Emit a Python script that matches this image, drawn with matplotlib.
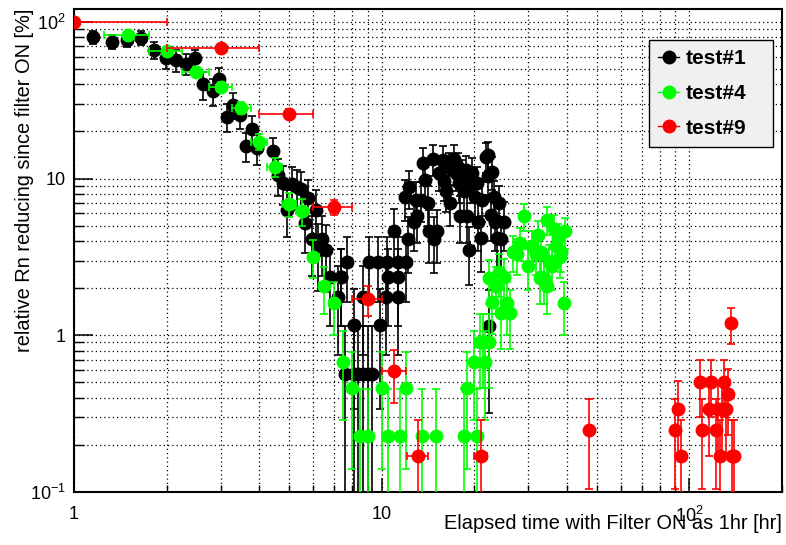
import numpy as np
import matplotlib
matplotlib.use("Agg")
import matplotlib.pyplot as plt
from matplotlib.lines import Line2D
from matplotlib.ticker import FixedLocator, FixedFormatter, NullFormatter

plt.rcParams['font.family'] = ['Liberation Sans', 'DejaVu Sans']
plt.rcParams['mathtext.fontset'] = 'custom'
plt.rcParams['mathtext.rm'] = 'Liberation Sans'
plt.rcParams['mathtext.it'] = 'Liberation Sans'
plt.rcParams['mathtext.default'] = 'regular'

# ---------------- data ----------------
series_names = ["test#1", "test#4", "test#9"]
series_colors = ["#000000", "#00ff00", "#ff0000"]

t1_x = [1.15, 1.33, 1.49, 1.65, 1.82, 1.99, 2.15, 2.32, 2.48, 2.63, 2.82, 2.97,
        3.15, 3.29, 3.47, 3.63, 3.80, 3.94, 4.45, 4.60, 4.79, 5.13, 5.30, 5.48,
        4.94, 5.77, 6.10, 5.65, 5.92, 6.42, 6.23, 6.60, 6.80, 7.35, 7.40, 7.20,
        7.70, 8.10, 8.70, 9.10, 9.70, 10.4, 11.3, 12.0, 10.5, 11.3, 10.3, 11.3,
        9.90, 7.60, 8.10, 8.40, 8.70, 9.00, 9.30, 11.0,
        11.9, 12.3, 12.2, 12.7, 13.0, 12.9, 13.4, 13.6, 13.8, 14.1, 14.3, 14.7,
        14.8, 15.1, 15.3, 15.8, 15.9, 16.2, 16.6, 16.7, 17.2, 17.4, 17.7, 17.8,
        18.0, 18.3, 18.5, 18.8, 18.9, 19.2, 19.5, 19.7, 20.1, 20.4, 20.6, 21.0,
        21.2, 21.8, 22.1, 22.2, 22.6, 22.9, 23.2, 23.4, 23.7, 24.0, 24.5, 24.9,
        22.4]
t1_y = [80, 75, 77, 79, 66, 59, 57, 54, 58.5, 40, 36, 43,
        24.9, 29.5, 25.6, 16.2, 20.8, 15.8, 15.0, 10.6, 9.4, 9.3, 8.8, 8.6,
        6.35, 7.5, 6.35, 5.24, 4.09, 4.09, 3.53, 3.48, 2.34, 2.34, 2.34, 1.75,
        2.92, 1.16, 1.75, 2.92, 2.92, 2.92, 2.92, 2.92, 2.34, 2.34, 1.75, 1.75,
        1.16, 0.57, 0.57, 0.57, 0.57, 0.57, 0.57, 4.6,
        7.6, 8.8, 4.1, 5.25, 5.8, 7.35, 7.35, 12.6, 9.85, 7.0, 4.6, 13.4,
        4.1, 4.6, 10.9, 13.2, 9.6, 8.3, 11.8, 7.0, 13.4, 10.9, 11.9, 9.4,
        5.8, 10.6, 8.3, 11.4, 5.8, 3.48, 9.4, 10.9, 7.6, 9.4, 5.25, 4.15,
        7.35, 13.8, 14.2, 10.4, 5.9, 11.1, 7.6, 5.25, 4.15, 7.0, 4.1, 5.25,
        1.14]
t1_yerr = [8, 8, 8, 8, 8, 9, 9, 8, 8, 8, 7, 8,
           5, 5.5, 5, 3.5, 4.2, 3.5, 3.3, 2.8, 2.6, 2.6, 2.5, 2.5,
           2.1, 2.3, 2.1, 1.9, 1.7, 1.7, 1.6, 1.6, 1.2, 1.2, 1.2, 1.0,
           1.3, 0.82, 1.0, 1.3, 1.3, 1.3, 1.3, 1.3, 1.2, 1.2, 1.0, 1.0,
           0.82, 0.57, 0.57, 0.57, 0.57, 0.57, 0.57, 1.8,
           2.2, 2.4, 1.6, 1.8, 1.9, 2.1, 2.1, 3.0, 2.5, 2.0, 1.7, 3.0,
           1.6, 1.7, 2.6, 3.0, 2.4, 2.2, 2.7, 2.0, 3.0, 2.6, 2.7, 2.4,
           1.9, 2.5, 2.2, 2.6, 1.9, 1.4, 2.4, 2.6, 2.1, 2.4, 1.8, 1.6,
           2.1, 3.0, 3.0, 2.5, 1.9, 2.6, 2.1, 1.8, 1.6, 2.0, 1.6, 1.8,
           0.82]

t4_x = [1.5, 2.0, 2.5, 3.0, 3.5, 4.0, 4.5, 5.0, 5.5, 6.0, 6.5, 7.0,
        7.5, 8.0, 8.5, 9.0, 10.0, 10.5, 11.5, 12.0, 13.5, 15.0, 18.5, 19.0,
        19.9, 20.4, 20.8, 21.4, 21.6, 22.3, 22.3, 22.9, 23.6, 24.0, 24.5, 24.9,
        25.5, 26.1, 26.7, 27.5, 28.1, 29.0, 29.9, 30.8, 31.7, 32.2, 33.0, 32.7,
        33.8, 34.4, 34.4, 34.9, 35.8, 36.4, 36.9, 37.4, 38.2, 38.0, 39.4, 39.1]
t4_y = [82, 65, 48, 38.6, 28.4, 17.2, 11.9, 6.9, 6.2, 3.18, 2.05, 1.6,
        0.68, 0.46, 0.227, 0.227, 0.46, 0.227, 0.227, 0.46, 0.227, 0.227, 0.227, 0.46,
        0.68, 0.227, 0.91, 0.91, 0.68, 0.91, 2.31, 1.62, 2.05, 2.52, 1.38, 2.34,
        1.6, 1.38, 3.42, 3.28, 3.9, 5.74, 2.75, 3.69, 3.28, 4.34, 3.42, 2.31,
        2.31, 2.05, 5.48, 2.96, 2.75, 4.8, 3.69, 4.15, 3.42, 3.18, 4.6, 1.6]
t4_yerr = [4.3, 3.8, 3.3, 3.0, 2.5, 2.0, 1.6, 1.25, 1.2, 0.85, 0.68, 0.6,
           0.39, 0.32, 0.227, 0.227, 0.32, 0.227, 0.227, 0.32, 0.227, 0.227, 0.227, 0.32,
           0.39, 0.227, 0.45, 0.45, 0.39, 0.45, 0.72, 0.6, 0.68, 0.76, 0.56, 0.73,
           0.6, 0.56, 0.88, 0.86, 0.94, 1.14, 0.79, 0.92, 0.86, 0.99, 0.88, 0.72,
           0.72, 0.68, 1.12, 0.82, 0.79, 1.04, 0.92, 0.97, 0.88, 0.85, 1.02, 0.6]
t4_xerr = [0.25] * len(t4_x)

t9_x = [1.0, 3.0, 5.0, 7.0, 9.0, 11.0, 13.1, 21.0, 47.2,
        90, 91.6, 94, 108, 110, 116, 118, 122, 124, 126, 128, 130, 132, 134,
        137, 138, 140]
t9_y = [100, 68, 26, 6.6, 1.70, 0.59, 0.17, 0.17, 0.25,
        0.25, 0.34, 0.17, 0.50, 0.25, 0.34, 0.50, 0.25, 0.34, 0.17, 0.34, 0.50, 0.34, 0.42,
        1.19, 0.17, 0.17]
t9_yerr = [5, 4, 2.0, 0.7, 0.37, 0.22, 0.12, 0.12, 0.145,
           0.145, 0.17, 0.12, 0.2, 0.145, 0.17, 0.2, 0.145, 0.17, 0.12, 0.17, 0.2, 0.17, 0.19,
           0.31, 0.12, 0.12]
t9_xerr = [1.0] * len(t9_x)

x_ticks = [1, 10, 100]
x_tick_labels = ["1", "10", r"$10^{2}$"]
y_ticks = [0.1, 1, 10, 100]
y_tick_labels = [r"$10^{-1}$", "1", "10", r"$10^{2}$"]

x_title = "Elapsed time with Filter ON as 1hr [hr]"
y_title = "relative Rn reducing since filter ON [%]"

# ---------------- figure ----------------
W, H = 786, 545
fig = plt.figure(figsize=(W / 100, H / 100), dpi=100)
L, R, T, B = 74, 782, 9, 492
ax = fig.add_axes([L / W, 1 - B / H, (R - L) / W, (B - T) / H])
ax.set_xscale('log', nonpositive='clip')
ax.set_yscale('log', nonpositive='clip')
ax.set_xlim(1, 200)
ax.set_ylim(0.1, 121)

def draw(x, y, yerr, xerr, color, z):
    x = np.asarray(x, float)
    y = np.asarray(y, float)
    yerr = np.asarray(yerr, float)
    ylo = np.minimum(yerr, y * 0.999)
    xe = None
    if xerr is not None:
        xerr = np.asarray(xerr, float)
        xlo = np.minimum(xerr, x * 0.999)
        xe = [xlo, xerr]
    ax.errorbar(x, y, yerr=[ylo, yerr], xerr=xe, fmt='o', color=color,
                ms=9, mec=color, mfc=color, ecolor=color, elinewidth=1.2,
                capsize=2.6, capthick=1.2, zorder=z)

draw(t1_x, t1_y, t1_yerr, None, series_colors[0], 3)
draw(t4_x, t4_y, t4_yerr, t4_xerr, series_colors[1], 4)
draw(t9_x, t9_y, t9_yerr, t9_xerr, series_colors[2], 5)

# grid
ax.grid(True, which='both', color='black', linestyle=(0, (1.0, 2.4)), linewidth=0.9)
ax.set_axisbelow(True)

# ticks
ax.xaxis.set_major_locator(FixedLocator(x_ticks))
ax.xaxis.set_major_formatter(FixedFormatter(x_tick_labels))
ax.yaxis.set_major_locator(FixedLocator(y_ticks))
ax.yaxis.set_major_formatter(FixedFormatter(y_tick_labels))
ax.xaxis.set_minor_formatter(NullFormatter())
ax.yaxis.set_minor_formatter(NullFormatter())
ax.tick_params(axis='x', which='major', direction='in', length=10.4, width=1.1,
               labelsize=13, pad=10)
ax.tick_params(axis='x', which='minor', direction='in', length=5.2, width=1.0)
ax.tick_params(axis='y', which='major', direction='in', length=13.7, width=1.1,
               labelsize=13, pad=6)
ax.tick_params(axis='y', which='minor', direction='in', length=7.0, width=1.0)
for s in ax.spines.values():
    s.set_linewidth(1.5)
    s.set_color('black')

# titles
ax.set_xlabel(x_title, fontsize=14.4, loc='right')
ax.xaxis.set_label_coords(1.0, -0.046)
ax.set_ylabel(y_title, fontsize=14.4, loc='top')
ax.yaxis.set_label_coords(-0.056, 1.0)

# legend
handles = [Line2D([], [], color=c, marker='o', ms=9, lw=1.0) for c in series_colors]
x0 = (649 - L) / (R - L)
x1 = (773 - L) / (R - L)
ytop = (B - 40) / (B - T)
leg = ax.legend(handles, series_names, loc='upper left',
                bbox_to_anchor=(x0, ytop - 0.3, x1 - x0, 0.3), mode='expand',
                prop={'weight': 'bold', 'size': 15}, frameon=True, fancybox=False,
                edgecolor='black', facecolor='#f0f0f0', framealpha=1,
                borderpad=0.45, labelspacing=0.75, handlelength=1.0,
                handletextpad=0.3, borderaxespad=0)
leg.get_frame().set_linewidth(1.0)
leg.set_zorder(10)

fig.savefig("out.png", dpi=100)
